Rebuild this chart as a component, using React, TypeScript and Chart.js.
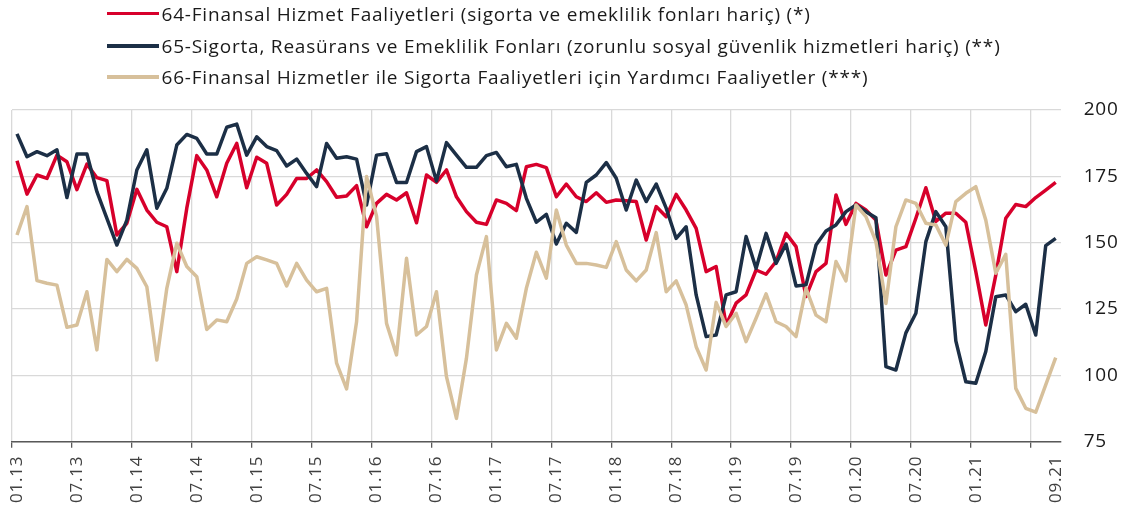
import React, { useEffect, useRef } from "react";
import { Chart, registerables } from "chart.js";

Chart.register(...registerables);

// Monthly categories 01.13 .. 09.21
const startYear = 13;
const monthCount = 105;
const categories: string[] = [];
for (let k = 0; k < monthCount; k++) {
  const m = (k % 12) + 1;
  const y = startYear + Math.floor(k / 12);
  categories.push(`${m < 10 ? "0" + m : m}.${y}`);
}

// Tick labels shown on the x axis
const tickLabels = [
  "01.13", "07.13", "01.14", "07.14", "01.15", "07.15", "01.16", "07.16", "01.17",
  "07.17", "01.18", "07.18", "01.19", "07.19", "01.20", "07.20", "01.21", "09.21",
];

const yTicks = [75, 100, 125, 150, 175, 200];

const seriesNames = [
  "64-Finansal Hizmet Faaliyetleri (sigorta ve emeklilik fonları hariç) (*)",
  "65-Sigorta, Reasürans ve Emeklilik Fonları (zorunlu sosyal güvenlik hizmetleri hariç) (**)",
  "66-Finansal Hizmetler ile Sigorta Faaliyetleri için Yardımcı Faaliyetler (***)",
];

const series64 = [
  180.9, 168.3, 175.5, 174.2, 183, 180.5, 170, 179.6, 174.5, 173.4, 152.9, 157.3,
  170.1, 162.3, 157.7, 156, 139.1, 163, 182.8, 177.4, 167.3, 179.9, 187.4, 170.7,
  182.2, 179.9, 164.2, 168.2, 174.2, 174.2, 177.4, 173, 167.1, 167.6, 171.5, 156,
  164.8, 168.2, 166.1, 168.8, 157.5, 175.5, 172.7, 177.4, 167.3, 161.7, 157.7, 156.9,
  166.1, 164.8, 162.1, 178.6, 179.5, 178.3, 167.3, 172.1, 167.3, 165.5, 168.8, 165.2,
  166.1, 165.8, 165.5, 151, 163.6, 159.8, 168.2, 162.3, 155.4, 139.1, 141, 119,
  127.2, 130.3, 139.7, 138.1, 142.9, 153.5, 148.5, 129.7, 139.1, 142.2, 168, 156.9,
  164.8, 162.3, 158.5, 137.8, 147.2, 148.5, 159.2, 170.7, 158, 161.1, 161.1, 157.7,
  139.1, 119, 137.8, 159.2, 164.4, 163.6, 167, 169.8, 172.7,
];

const series65 = [
  191, 182.4, 184.3, 182.8, 185, 167, 183.4, 183.4, 169.2, 159.2, 149.1, 158.5,
  177.4, 185, 163, 170.5, 186.8, 190.8, 189.3, 183.4, 183.4, 193.5, 194.7, 183,
  189.9, 186.2, 184.7, 178.9, 181.5, 176.1, 171.1, 187.4, 181.8, 182.4, 181.5, 164.2,
  183, 183.5, 172.7, 172.7, 184.3, 186.2, 173.2, 187.7, 183, 178.4, 178.4, 182.8,
  184, 178.6, 179.5, 166.7, 157.7, 160.7, 149.5, 157.3, 153.9, 172.7, 175.5, 180.2,
  174.3, 162.3, 173.6, 165.5, 172.1, 163, 151.6, 156, 130.3, 114.6, 115.2, 130.3,
  131.5, 152.3, 140.3, 153.5, 142.2, 149.5, 133.7, 134.1, 149.1, 154.4, 156.7, 161.7,
  164.2, 161.7, 159.4, 103.3, 102, 116, 123.4, 150.4, 161.7, 156, 113, 97.6,
  97, 109, 129.6, 130.3, 124, 126.8, 115.2, 148.9, 151.6,
];

const series66 = [
  152.9, 163.6, 135.7, 134.7, 134, 118.1, 119, 131.5, 109.6, 143.7, 139.1, 143.7,
  140.3, 133.4, 105.8, 132.8, 149.8, 141, 137.2, 117.3, 120.9, 120.2, 128.8, 142.2,
  144.7, 143.5, 142.2, 133.7, 142.2, 135.9, 131.5, 132.8, 104.6, 94.9, 120.2, 174.9,
  160, 119.6, 107.7, 144.1, 115.2, 118.4, 131.5, 99.5, 83.8, 106.4, 137.8, 152.3,
  109.6, 119.6, 114, 132.8, 146.4, 136.6, 162.3, 149.1, 142.2, 142.2, 141.6, 140.7,
  150.4, 139.7, 135.6, 139.7, 153.8, 131.5, 135.6, 126.5, 110.8, 102, 127.5, 118.4,
  123.4, 112.7, 121.5, 130.7, 120.2, 118.4, 114.6, 132.8, 122.7, 120.2, 142.9, 135.6,
  164.2, 159.8, 150.4, 127.1, 156, 166.1, 164.8, 157.3, 156.7, 149.1, 165.5, 168.6,
  171.1, 158.5, 138.5, 145.6, 95.1, 87.6, 86.1, 96.4, 106.7,
];

const colors = ["#d7002b", "#1c2f46", "#d7c09b"];
const FONT = "'Open Sans', 'Noto Sans', sans-serif";
const SPACING = "0.8px";

const spacingPlugin = {
  id: "letterSpacing",
  beforeUpdate: (chart: any) => {
    chart.ctx.letterSpacing = SPACING;
  },
  beforeDraw: (chart: any) => {
    chart.ctx.letterSpacing = SPACING;
  },
};

export default function App() {
  const canvasRef = useRef<HTMLCanvasElement | null>(null);

  useEffect(() => {
    const canvas = canvasRef.current;
    if (!canvas) return;
    const shown = new Set(tickLabels);
    const isGrid = (i: number) => i % 6 === 0 && i < monthCount;
    const chart = new Chart(canvas, {
      type: "line",
      data: {
        labels: categories,
        datasets: [
          { label: seriesNames[0], data: series64, borderColor: colors[0], backgroundColor: colors[0], order: 3 },
          { label: seriesNames[1], data: series65, borderColor: colors[1], backgroundColor: colors[1], order: 2 },
          { label: seriesNames[2], data: series66, borderColor: colors[2], backgroundColor: colors[2], order: 1 },
        ],
      },
      plugins: [spacingPlugin],
      options: {
        animation: false,
        responsive: false,
        maintainAspectRatio: false,
        devicePixelRatio: 1,
        layout: { padding: { top: 110, left: 12, right: 0, bottom: 0 } },
        plugins: { legend: { display: false }, tooltip: { enabled: false } },
        elements: {
          point: { radius: 0 },
          line: { borderWidth: 3.5, tension: 0, borderJoinStyle: "round", borderCapStyle: "butt" },
        },
        scales: {
          x: {
            offset: true,
            grid: {
              offset: true,
              color: (ctx: any) => (isGrid(ctx.index) ? "#d9d9d9" : "rgba(0,0,0,0)"),
              tickColor: (ctx: any) => (isGrid(ctx.index) ? "#595959" : "rgba(0,0,0,0)"),
              tickLength: 6,
              lineWidth: 1.3,
            },
            border: { color: "#595959", width: 1.5 },
            ticks: {
              autoSkip: false,
              maxRotation: 90,
              minRotation: 90,
              padding: 8,
              color: "#404040",
              font: { family: FONT, size: 17 },
              callback: function (this: any, value: any, index: number) {
                const lab = categories[index];
                if (index === 102) return "";
                return shown.has(lab) && (index % 6 === 0 || index === monthCount - 1) ? lab : "";
              },
            },
            afterFit: (s: any) => {
              s.height = 69.3;
            },
          },
          y: {
            position: "right",
            min: yTicks[0],
            max: yTicks[yTicks.length - 1],
            afterBuildTicks: (s: any) => {
              s.ticks = yTicks.map((v) => ({ value: v }));
            },
            grid: { color: "#d9d9d9", drawTicks: false, lineWidth: 1.3 },
            border: { display: false },
            ticks: {
              padding: 23,
              color: "#1a1a1a",
              font: { family: FONT, size: 19 },
            },
            afterFit: (s: any) => {
              s.width = 64.3;
            },
          },
        },
      },
    } as any);
    return () => chart.destroy();
  }, []);

  const rowCenters = [13.5, 46, 77];

  return (
    <div style={{ position: "fixed", left: 0, top: 0, width: 1125, height: 511, background: "#fff" }}>
      <canvas ref={canvasRef} width={1125} height={511} style={{ display: "block", width: 1125, height: 511 }} />
      {seriesNames.map((name, i) => (
        <div
          key={name}
          style={{
            position: "absolute",
            left: 107,
            top: rowCenters[i] - 13,
            height: 26,
            display: "flex",
            alignItems: "center",
            whiteSpace: "nowrap",
          }}
        >
          <span style={{ display: "inline-block", width: 52, height: 3.5, background: colors[i], marginRight: 2.5 }} />
          <span
            style={{
              fontFamily: FONT,
              fontSize: 19,
              letterSpacing: SPACING,
              color: "#1a1a1a",
              lineHeight: "26px",
            }}
          >
            {name}
          </span>
        </div>
      ))}
    </div>
  );
}
